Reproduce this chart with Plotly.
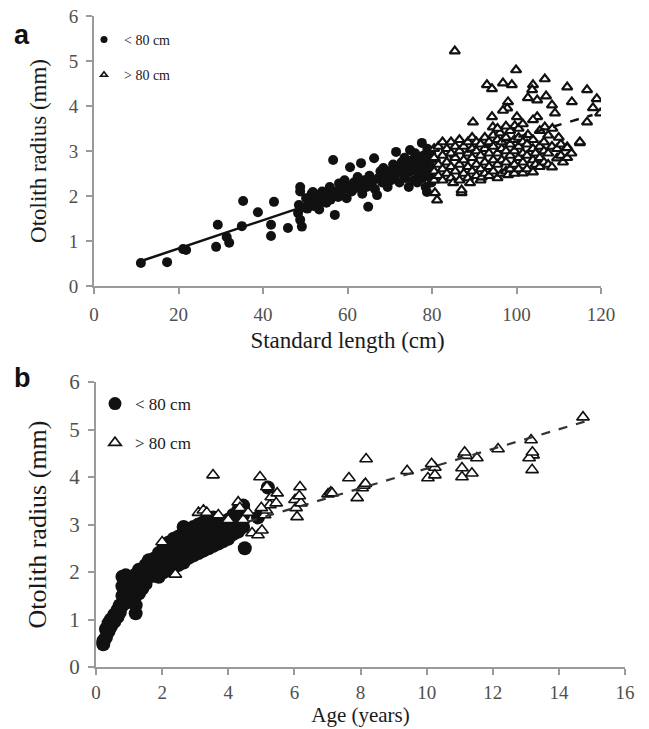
import plotly.graph_objects as go

# ---------------- Panel a: otolith radius vs standard length ----------------
a_small_len = [11.1, 17.3, 21.1, 21.8, 28.9, 29.3, 31.4, 32.0, 35.0, 35.3, 38.8, 41.9, 41.9, 42.6, 45.9,
               48.8, 48.8, 48.3, 48.8, 49.2, 48.5, 49.5,
               50.2, 50.5, 51.0, 51.5, 51.8, 52.0, 52.5, 53.0, 53.3, 53.8, 54.0, 54.5, 55.0, 55.3, 55.8,
               56.0, 56.6, 57.0, 57.2, 57.8, 58.0, 58.5, 59.0, 59.3, 59.8, 60.0, 60.6, 61.0, 61.5, 62.0,
               62.4, 63.0, 63.2, 63.5, 64.0, 64.5, 64.9, 65.2, 65.8, 66.3, 66.5, 67.0, 67.3, 67.8, 68.2,
               68.5, 69.0, 69.5, 70.0, 70.3, 70.8, 71.2, 71.5, 72.0, 72.3, 72.8, 73.0, 73.5, 73.8, 74.2,
               74.8, 75.0, 75.3, 75.7, 76.0, 76.3, 76.8, 77.0, 77.3, 77.6, 77.8, 78.0, 78.3, 78.6, 78.9,
               79.2, 79.4, 79.6, 79.8, 79.9, 76.5, 74.5, 78.5, 78.8]
a_small_rad = [0.51, 0.53, 0.82, 0.80, 0.87, 1.36, 1.09, 0.96, 1.33, 1.89, 1.64, 1.36, 1.11, 1.87, 1.29,
               2.20, 2.10, 1.62, 1.47, 1.32, 1.80, 1.75,
               1.95, 1.72, 1.85, 2.05, 2.09, 1.78, 1.95, 2.02, 1.70, 1.88, 2.10, 1.95, 1.85, 2.05, 2.20,
               1.92, 2.80, 1.58, 2.10, 1.98, 2.28, 2.05, 2.15, 2.35, 1.95, 2.22, 2.64, 2.10, 2.30, 2.18,
               2.42, 2.25, 2.73, 2.05, 2.35, 2.20, 1.76, 2.45, 2.30, 2.84, 2.15, 2.02, 2.40, 2.55, 2.30,
               2.62, 2.42, 2.20, 2.55, 2.35, 2.70, 2.45, 2.98, 2.60, 2.30, 2.75, 2.50, 2.85, 2.40, 2.65,
               3.02, 2.55, 2.80, 2.35, 2.95, 2.65, 2.48, 2.78, 2.60, 3.18, 2.40, 2.90, 2.70, 2.55, 3.05,
               2.85, 2.45, 2.65, 2.95, 2.30, 2.30, 2.20, 2.20, 2.09]

a_large_len = [80.5, 80.5, 80.5, 80.5, 80.7, 81.2, 81.5, 81.5, 81.5, 82.5, 82.5, 82.5, 82.5,
               83.5, 83.5, 83.5, 84.5, 84.5, 84.5, 84.5, 85.0, 85.5, 85.5, 85.5,
               86.5, 86.5, 86.5, 86.5, 87.0, 87.0, 87.5, 87.5, 87.5, 88.5, 88.5, 88.5, 88.5, 89.0,
               89.5, 89.5, 89.5, 89.5, 90.5, 90.5, 90.5, 90.5, 91.5, 91.5, 91.5, 91.5, 91.8,
               92.5, 92.5, 92.5, 92.5, 93.5, 93.5, 93.5, 93.5, 94.5, 94.5, 94.5, 94.5,
               95.5, 95.5, 95.5, 95.5, 96.5, 96.5, 96.5, 96.5, 97.5, 97.5, 97.5, 97.5, 98.0,
               98.5, 98.5, 98.5, 99.5, 99.5, 99.5, 99.5, 100.5, 100.5, 100.5, 100.5,
               101.5, 101.5, 101.5, 101.5, 102.5, 102.5, 102.5, 103.9, 103.9, 103.9, 103.9,
               104.5, 104.5, 105.5, 105.5, 105.5, 106.5, 106.5, 106.5, 107.5, 107.5, 108.4, 108.4,
               109.6, 109.6, 110.5, 110.5, 111.0, 112.0, 112.0, 113.0, 115.0,
               85.4, 99.9, 93.0, 94.2, 96.8, 98.9, 103.9, 106.7, 112.0, 116.7, 119.0, 118.1, 119.8,
               116.7, 113.1, 109.1, 108.4, 107.0, 104.9, 103.7, 102.7, 98.0, 97.8, 96.8, 100.1, 99.6,
               94.2, 94.4, 104.9, 103.9, 106.7, 89.7, 115.0, 112.0, 96.1, 102.7,
               98.5, 100.5, 101.5, 97.5, 105.5, 107.5, 95.5, 110.0, 108.5]
a_large_rad = [2.55, 2.85, 3.05, 2.35, 2.07, 1.91, 2.70, 3.10, 2.45, 2.60, 2.90, 3.20, 2.35,
               2.75, 3.05, 2.50, 2.40, 2.65, 2.95, 3.20, 2.29, 2.55, 2.85, 3.10,
               2.35, 2.70, 3.00, 3.25, 2.07, 2.13, 2.50, 2.80, 3.10, 2.40, 2.65, 2.95, 3.20, 2.29,
               2.55, 2.85, 3.05, 3.30, 2.45, 2.70, 3.00, 3.20, 2.35, 2.60, 2.90, 3.15, 2.42,
               2.50, 2.75, 3.05, 3.30, 2.45, 2.65, 2.95, 3.20, 2.55, 2.80, 3.10, 3.35,
               2.40, 2.70, 2.95, 3.25, 2.50, 2.80, 3.05, 3.20, 2.55, 2.75, 3.00, 3.30, 2.47,
               2.60, 2.90, 3.15, 2.50, 2.70, 3.00, 3.25, 2.60, 2.85, 3.10, 3.30,
               2.51, 2.75, 2.95, 3.20, 2.60, 2.90, 3.15, 2.53, 2.80, 3.05, 3.25,
               2.70, 2.95, 2.65, 2.85, 3.10, 2.75, 3.00, 3.20, 2.70, 2.95, 2.64, 3.10,
               2.84, 3.05, 2.90, 3.15, 2.75, 3.09, 2.85, 2.95, 3.18,
               5.22, 4.80, 4.47, 4.38, 4.51, 4.47, 4.47, 4.60, 4.42, 4.36, 4.16, 3.96, 3.84,
               3.64, 4.09, 3.84, 4.02, 4.22, 4.13, 4.36, 4.18, 4.09, 3.95, 3.90, 3.76, 3.56,
               3.76, 3.53, 3.76, 3.69, 3.53, 3.64, 3.20, 3.07, 3.40, 3.36,
               3.45, 3.50, 3.60, 3.55, 3.45, 3.35, 3.50, 3.30, 3.50]

a_fit_small_x = [11, 80]
a_fit_small_y = [0.55, 2.72]
a_fit_large_x = [80, 118]
a_fit_large_y = [2.75, 3.80]

# ---------------- Panel b: otolith radius vs age ----------------
b_small_age = [0.22, 0.22, 0.3, 0.3, 0.38, 0.38, 0.45, 0.45, 0.55, 0.55, 0.65, 0.65, 0.72, 0.72,
               0.8, 0.8, 0.8, 0.8, 0.9, 0.9, 0.9, 0.9, 1.0, 1.0, 1.0, 1.1, 1.1,
               1.2, 1.2, 1.2, 1.2, 1.2, 1.3, 1.3, 1.3, 1.4, 1.4, 1.4, 1.5, 1.5, 1.5,
               1.6, 1.6, 1.6, 1.75, 1.75, 1.75, 1.9, 1.9, 1.9, 1.9,
               2.05, 2.05, 2.05, 2.05, 2.2, 2.2, 2.2, 2.2, 2.35, 2.35, 2.35, 2.35,
               2.5, 2.5, 2.5, 2.5, 2.65, 2.65, 2.65, 2.65, 2.65, 2.8, 2.8, 2.8, 2.8,
               2.95, 2.95, 2.95, 2.95, 3.1, 3.1, 3.1, 3.1, 3.25, 3.25, 3.25, 3.25,
               3.4, 3.4, 3.4, 3.4, 3.55, 3.55, 3.55, 3.55, 3.7, 3.7, 3.7, 3.85, 3.85, 3.85,
               4.0, 4.0, 4.0, 4.15, 4.15, 4.15, 4.3, 4.3, 4.3, 4.45, 4.45, 4.45, 4.5, 4.9, 5.2]
b_small_rad = [0.48, 0.55, 0.62, 0.80, 0.75, 0.92, 0.85, 1.00, 0.95, 1.10, 1.05, 1.20, 1.15, 1.30,
               1.30, 1.50, 1.70, 1.90, 1.35, 1.55, 1.75, 1.93, 1.45, 1.65, 1.85, 1.50, 1.70,
               1.13, 1.30, 1.50, 1.75, 1.95, 1.55, 1.75, 2.05, 1.65, 1.85, 2.05, 1.75, 1.95, 2.15,
               1.90, 2.10, 2.25, 1.92, 2.10, 2.28, 1.90, 2.05, 2.25, 2.40,
               2.00, 2.20, 2.40, 2.53, 2.05, 2.25, 2.45, 2.62, 2.10, 2.30, 2.50, 2.70,
               2.15, 2.35, 2.55, 2.75, 2.20, 2.40, 2.60, 2.80, 2.95, 2.30, 2.50, 2.70, 2.90,
               2.35, 2.55, 2.75, 2.95, 2.40, 2.60, 2.80, 3.00, 2.45, 2.65, 2.85, 3.05,
               2.50, 2.70, 2.90, 3.10, 2.55, 2.75, 2.95, 3.15, 2.60, 2.80, 3.00, 2.65, 2.85, 3.05,
               2.70, 2.90, 3.10, 2.80, 3.00, 3.20, 2.85, 3.05, 3.30, 2.95, 3.20, 3.40, 2.50, 3.15, 3.78]

b_large_age = [2.0, 2.4, 3.1, 3.25, 3.35, 3.54, 3.7, 4.0, 4.3, 4.35, 4.45, 4.6, 4.72, 4.9, 5.02,
               4.96, 5.1, 5.15, 5.17, 5.26, 5.3, 5.48, 5.45, 5.0, 6.02, 6.05, 6.08, 6.17, 6.2, 6.15,
               7.02, 7.1, 7.14, 7.65, 7.9, 8.05, 8.1, 8.15, 8.17, 9.41, 10.04, 10.19, 10.25, 10.25,
               10.15, 11.07, 11.07, 11.13, 11.2, 11.15, 11.37, 11.52, 12.16, 13.16, 13.22, 13.1,
               13.2, 13.19, 14.73]
b_large_rad = [2.63, 1.95, 3.25, 3.30, 3.25, 4.04, 3.20, 3.10, 3.47, 3.35, 3.10, 3.25, 2.82, 2.78, 2.88,
               4.00, 3.20, 3.30, 3.79, 3.41, 3.58, 3.66, 3.45, 3.35, 3.52, 3.35, 3.16, 3.79, 3.45, 3.60,
               3.64, 3.68, 3.66, 3.98, 3.56, 3.77, 3.82, 3.86, 4.38, 4.13, 3.98, 4.23, 4.20, 4.04,
               4.28, 4.19, 4.00, 4.48, 4.45, 4.52, 4.08, 4.40, 4.59, 4.78, 4.46, 4.40,
               4.52, 4.15, 5.26]

b_fit_large_x = [4.6, 14.8]
b_fit_large_y = [3.06, 5.17]

x_a_ticks = [0, 20, 40, 60, 80, 100, 120]
x_b_ticks = [0, 2, 4, 6, 8, 10, 12, 14, 16]
y_ticks = [0, 1, 2, 3, 4, 5, 6]
legend_labels = ["< 80 cm", "> 80 cm"]

SERIF = "Liberation Serif, Times New Roman, serif"
AX = "#9a9a9a"
TICKC = "#505050"

fig = go.Figure()

# panel a
fig.add_trace(go.Scatter(x=a_small_len, y=a_small_rad, mode="markers", xaxis="x", yaxis="y",
                         marker=dict(symbol="circle", size=10, color="#111111"), showlegend=False))
fig.add_trace(go.Scatter(x=a_large_len, y=a_large_rad, mode="markers", xaxis="x", yaxis="y",
                         marker=dict(symbol="triangle-up", size=9, color="white",
                                     line=dict(color="#111111", width=2.2)), showlegend=False))
fig.add_trace(go.Scatter(x=a_fit_small_x, y=a_fit_small_y, mode="lines", xaxis="x", yaxis="y",
                         line=dict(color="#111111", width=2.5), showlegend=False))
fig.add_trace(go.Scatter(x=a_fit_large_x, y=a_fit_large_y, mode="lines", xaxis="x", yaxis="y",
                         line=dict(color="#111111", width=2.5, dash="dash"), showlegend=False))
# legend entries panel a
fig.add_trace(go.Scatter(x=[None], y=[None], mode="markers", xaxis="x", yaxis="y", name=legend_labels[0],
                         legend="legend", legendgroup="a1",
                         marker=dict(symbol="circle", size=7, color="#111111")))
fig.add_trace(go.Scatter(x=[None], y=[None], mode="markers", xaxis="x", yaxis="y", name=legend_labels[1],
                         legend="legend", legendgroup="a2",
                         marker=dict(symbol="triangle-up", size=6, color="white",
                                     line=dict(color="#111111", width=1.6))))

# panel b
fig.add_trace(go.Scatter(x=b_small_age, y=b_small_rad, mode="markers", xaxis="x2", yaxis="y2",
                         marker=dict(symbol="circle", size=14, color="#111111"), showlegend=False))
fig.add_trace(go.Scatter(x=b_large_age, y=b_large_rad, mode="markers", xaxis="x2", yaxis="y2",
                         marker=dict(symbol="triangle-up", size=11, color="white",
                                     line=dict(color="#111111", width=1.6)), showlegend=False))
fig.add_trace(go.Scatter(x=b_fit_large_x, y=b_fit_large_y, mode="lines", xaxis="x2", yaxis="y2",
                         line=dict(color="#333333", width=2.2, dash="dash"), showlegend=False))
fig.add_trace(go.Scatter(x=[None], y=[None], mode="markers", xaxis="x2", yaxis="y2", name=legend_labels[0],
                         legend="legend2", legendgroup="b1",
                         marker=dict(symbol="circle", size=13, color="#111111")))
fig.add_trace(go.Scatter(x=[None], y=[None], mode="markers", xaxis="x2", yaxis="y2", name=legend_labels[1],
                         legend="legend2", legendgroup="b2",
                         marker=dict(symbol="triangle-up", size=11, color="white",
                                     line=dict(color="#111111", width=1.6))))

W, H = 649, 729


def ax_common(size, standoff=4):
    return dict(showline=True, linecolor=AX, linewidth=2, ticks="outside", tickcolor=AX,
                ticklen=6, tickwidth=2, showgrid=False, zeroline=False, automargin=False,
                tickfont=dict(family=SERIF, size=size, color=TICKC), ticklabelstandoff=standoff)


fig.update_layout(
    width=W, height=H, margin=dict(l=0, r=0, t=0, b=0),
    paper_bgcolor="white", plot_bgcolor="white",
    xaxis=dict(domain=[94 / W, 601 / W], range=[0, 120], tickvals=x_a_ticks, anchor="y",
               title=dict(text="Standard length (cm)", font=dict(family=SERIF, size=23, color="#1a1a1a"),
                          standoff=8),
               **ax_common(19)),
    yaxis=dict(domain=[1 - 286 / H, 1 - 16 / H], range=[0, 6], tickvals=y_ticks, anchor="x",
               title=dict(text="Otolith radius (mm)", font=dict(family=SERIF, size=23, color="#1a1a1a"),
                          standoff=16),
               **ax_common(19)),
    xaxis2=dict(domain=[96 / W, 625 / W], range=[0, 16], tickvals=x_b_ticks, anchor="y2",
                title=dict(text="Age (years)", font=dict(family=SERIF, size=21, color="#1a1a1a"),
                           standoff=4),
                **ax_common(19, 1)),
    yaxis2=dict(domain=[1 - 667 / H, 1 - 382 / H], range=[0, 6], tickvals=y_ticks, anchor="x2",
                title=dict(text="Otolith radius (mm)", font=dict(family=SERIF, size=26, color="#1a1a1a"),
                           standoff=15),
                **ax_common(21)),
    legend=dict(x=84 / W, y=1 - 24 / H, xanchor="left", yanchor="top", bgcolor="rgba(0,0,0,0)",
                font=dict(family=SERIF, size=14, color="#1a1a1a"), itemwidth=30,
                traceorder="grouped", tracegroupgap=14, itemsizing="trace"),
    legend2=dict(x=95 / W, y=1 - 386 / H, xanchor="left", yanchor="top", bgcolor="rgba(0,0,0,0)",
                 font=dict(family=SERIF, size=17, color="#1a1a1a"), itemwidth=30,
                 traceorder="grouped", tracegroupgap=14, itemsizing="trace"),
    annotations=[
        dict(text="<b>a</b>", x=22 / W, y=1 - 35 / H, xref="paper", yref="paper", showarrow=False,
             xanchor="center", yanchor="middle",
             font=dict(family="Liberation Sans, Arial, sans-serif", size=27, color="#111111")),
        dict(text="<b>b</b>", x=22 / W, y=1 - 378 / H, xref="paper", yref="paper", showarrow=False,
             xanchor="center", yanchor="middle",
             font=dict(family="Liberation Sans, Arial, sans-serif", size=27, color="#111111")),
    ],
)

fig.write_html("out.html", config={"displayModeBar": False},
               post_script="document.body.style.margin='0px';document.body.style.overflow='hidden';")
